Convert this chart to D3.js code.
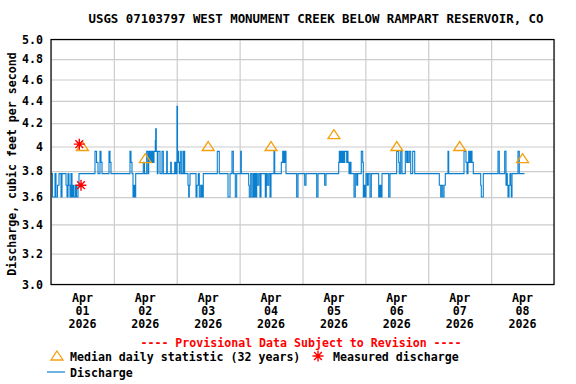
<!DOCTYPE html>
<html>
<head>
<meta charset="utf-8">
<script src="https://cdn.jsdelivr.net/npm/d3@7"></script>
<style>
  html, body { margin: 0; padding: 0; background: #fff; }
  svg { display: block; }
  text { font-family: "DejaVu Sans Mono", "Liberation Mono", monospace; font-weight: bold; }
</style>
</head>
<body>
<svg id="chart" width="576" height="384"></svg>
<script>
// ---------------- DATA ----------------
const titleText = "USGS 07103797 WEST MONUMENT CREEK BELOW RAMPART RESERVOIR, CO";
const yLabelText = "Discharge, cubic feet per second";
const startDate = Date.UTC(2026, 3, 1);   // Apr 01 2026 00:00
const endDate = Date.UTC(2026, 3, 9);     // Apr 09 2026 00:00

const yTickValues = [3.0, 3.2, 3.4, 3.6, 3.8, 4.0, 4.2, 4.4, 4.6, 4.8, 5.0];
const yTickLabels = ["3.0", "3.2", "3.4", "3.6", "3.8", "4", "4.2", "4.4", "4.6", "4.8", "5.0"];

const dayMonths = ["Apr", "Apr", "Apr", "Apr", "Apr", "Apr", "Apr", "Apr"];
const dayNumbers = ["01", "02", "03", "04", "05", "06", "07", "08"];
const dayYears = ["2026", "2026", "2026", "2026", "2026", "2026", "2026", "2026"];

// Median daily statistic (32 years), plotted at noon of each day
const medianValues = [4.0, 3.9, 4.0, 4.0, 4.1, 4.0, 4.0, 3.9];

// Measured discharge (hours since Apr 01 00:00)
const measuredHours = [10.8, 11.45];
const measuredValues = [4.02, 3.69];

// Discharge (15-min record), step change points: hours since Apr 01 00:00
const stepHours = [
  0, 0.57, 1.53, 1.91, 2.48, 3.05, 3.82, 4.20, 5.73, 6.11, 6.49, 6.87, 7.25, 7.63, 8.02, 8.40, 8.78, 9.35, 9.73, 10.31, 10.69,
  16.79, 17.37, 17.94, 18.70, 19.09, 19.47, 22.14, 22.52, 22.90,
  30.15, 30.54, 30.92, 31.30, 31.68, 32.06, 32.33, 35.23, 35.69, 36.53, 37.02, 37.29, 37.52, 37.79, 38.06, 38.29, 38.55, 38.82, 39.05, 39.32,
  39.81, 39.96, 40.19, 40.58, 40.84, 41.61, 42.37, 42.87, 44.16, 44.39, 45.69, 45.92, 47.22, 47.45, 47.71, 47.98,
  48.09, 48.29, 48.48, 48.74, 48.97, 49.24, 49.51, 49.74, 50.38, 50.65, 50.77, 51.03, 52.29, 52.56, 52.79, 53.06,
  55.35, 55.73, 56.22, 56.61, 57.14, 57.37, 57.64, 57.91, 58.13, 63.48, 64.24, 67.56, 68.33, 69.09, 69.59, 70.35, 70.88,
  72.41, 72.64, 75.46, 75.69, 76.23, 76.72, 77.22, 77.49, 77.87, 78.14, 78.52, 78.75, 79.28, 79.78, 80.16,
  81.80, 82.18, 82.56, 83.10, 83.60, 83.98, 85.12, 85.39, 87.91, 88.44, 88.67, 88.94, 89.21, 89.43, 89.70, 93.78, 94.28,
  96.84, 97.34, 101.42, 101.92, 104.47, 104.97, 109.82, 110.05, 110.31, 110.58, 110.81, 111.08, 111.35, 111.57, 111.84, 112.11,
  112.87, 113.10, 113.36, 113.75, 114.13, 114.51, 115.66, 116.15, 116.69, 117.07, 118.44, 118.98, 119.21, 119.59, 119.97,
  120.24, 120.73, 121.11, 121.76, 122.26, 125.08, 125.31, 125.58, 125.85, 126.08, 126.34, 128.90, 129.40,
  131.95, 132.72, 132.95, 133.48, 133.98, 135.24, 135.77, 136.00, 136.27, 136.77, 137.30, 138.06, 138.83,
  148.22, 148.76, 148.99, 149.52, 150.02, 150.51, 151.54, 151.81, 157.65, 158.41, 158.79, 159.17, 159.44, 159.67, 159.93,
  160.20, 160.43, 160.70, 161.19, 164.02, 164.25, 165.01, 170.62, 171.12, 173.18, 173.68, 173.95, 174.18, 174.44, 174.83,
  175.20, 175.47, 175.70, 175.97, 178.26, 178.75, 180.74
];
const stepFlows = [
  3.78, 3.60, 3.78, 3.60, 3.69, 3.78, 3.60, 3.78, 3.69, 3.60, 3.78, 3.69, 3.60, 3.78, 3.60, 3.69, 3.60, 3.69, 3.60, 3.69, 3.78,
  3.96, 3.87, 3.78, 3.96, 3.87, 3.78, 3.96, 3.87, 3.78,
  3.96, 3.87, 3.78, 3.60, 3.69, 3.60, 3.78, 3.87, 3.78, 3.96, 3.78, 3.96, 3.87, 3.96, 3.87, 3.96, 3.87, 3.96, 3.87, 3.96,
  4.05, 4.15, 3.96, 3.78, 3.96, 3.78, 3.96, 3.78, 3.96, 3.78, 3.87, 3.78, 3.87, 3.78, 3.87, 3.78,
  4.35, 3.87, 3.96, 3.87, 3.78, 3.87, 3.96, 3.78, 3.96, 3.78, 3.96, 3.78, 3.69, 3.60, 3.69, 3.78,
  3.60, 3.69, 3.78, 3.60, 3.69, 3.60, 3.69, 3.60, 3.78, 3.96, 3.78, 3.60, 3.78, 3.96, 3.78, 3.60, 3.78,
  3.96, 3.78, 3.69, 3.60, 3.78, 3.60, 3.78, 3.60, 3.78, 3.60, 3.78, 3.69, 3.78, 3.60, 3.78,
  3.60, 3.78, 3.69, 3.78, 3.60, 3.78, 3.96, 3.78, 3.87, 3.96, 3.87, 3.96, 3.87, 3.96, 3.78, 3.60, 3.78,
  3.69, 3.78, 3.60, 3.78, 3.69, 3.78, 3.87, 3.96, 3.87, 3.96, 3.87, 3.96, 3.87, 3.96, 3.87, 3.96,
  3.87, 3.96, 3.87, 3.78, 3.87, 3.78, 3.60, 3.78, 3.69, 3.78, 3.96, 3.87, 3.60, 3.69, 3.60,
  3.78, 3.69, 3.78, 3.60, 3.78, 3.60, 3.69, 3.60, 3.69, 3.60, 3.78, 3.60, 3.78,
  3.96, 3.87, 3.78, 3.96, 3.78, 3.96, 3.87, 3.96, 3.87, 3.96, 3.78, 3.96, 3.78,
  3.69, 3.60, 3.69, 3.60, 3.69, 3.78, 3.96, 3.78, 3.96, 3.87, 3.78, 3.87, 3.96, 3.87, 3.96,
  3.87, 3.96, 3.87, 3.78, 3.69, 3.60, 3.78, 3.96, 3.78, 3.96, 3.69, 3.78, 3.69, 3.60, 3.69,
  3.78, 3.69, 3.60, 3.78, 3.96, 3.78, 3.78
];

const provisionalText = "---- Provisional Data Subject to Revision ----";
const legendMedianText = "Median daily statistic (32 years)";
const legendMeasuredText = "Measured discharge";
const legendDischargeText = "Discharge";

// ---------------- CHART ----------------
const svg = d3.select("#chart");
const plot = { left: 51, right: 554, top: 39.5, bottom: 284.5 };
const hourToDate = h => new Date(startDate + h * 3600e3);

const x = d3.scaleUtc().domain([new Date(startDate), new Date(endDate)]).range([plot.left, plot.right]);
const y = d3.scaleLog().domain([3, 5]).range([plot.bottom, plot.top]);

const blue = "#0a7fd0", orange = "#f5a00f", red = "#ff0000", grid = "#cccccc";

// Title
svg.append("text").attr("x", 316).attr("y", 23).attr("text-anchor", "middle")
  .attr("font-size", "12.4px").attr("fill", "#000").text(titleText);

// Horizontal grid
svg.append("g").attr("transform", `translate(${plot.left},0)`)
  .call(d3.axisLeft(y).tickValues(yTickValues).tickSize(-(plot.right - plot.left)).tickFormat(""))
  .call(g => g.select(".domain").remove())
  .call(g => g.selectAll("line").attr("stroke", grid).attr("stroke-width", 1.2));

// Vertical grid at day boundaries
const dayBounds = d3.utcDay.range(new Date(startDate), new Date(endDate + 1));
svg.append("g").attr("transform", `translate(0,${plot.bottom})`)
  .call(d3.axisBottom(x).tickValues(dayBounds).tickSize(-(plot.bottom - plot.top)).tickFormat(""))
  .call(g => g.select(".domain").remove())
  .call(g => g.selectAll("line").attr("stroke", grid).attr("stroke-width", 1.2));

// Y tick labels
svg.append("g").attr("transform", `translate(${plot.left},0)`)
  .call(d3.axisLeft(y).tickValues(yTickValues).tickSize(0).tickPadding(8)
    .tickFormat((d, i) => yTickLabels[i]))
  .call(g => g.select(".domain").remove())
  .call(g => g.selectAll("text").attr("font-family", "DejaVu Sans Mono").attr("font-weight", "bold")
    .attr("font-size", "11.6px").attr("fill", "#000"));

// Y axis title
svg.append("text").attr("transform", `translate(16,${(plot.top + plot.bottom) / 2 + 2}) rotate(-90)`)
  .attr("text-anchor", "middle").attr("font-size", "11.6px").attr("fill", "#000").text(yLabelText);

// X labels at noon of each day
const noonDates = dayNumbers.map((d, i) => new Date(startDate + (i + 0.5) * 86400e3));
const xl = svg.append("g");
noonDates.forEach((d, i) => {
  const t = xl.append("text").attr("text-anchor", "middle").attr("font-size", "11.6px").attr("fill", "#000");
  t.append("tspan").attr("x", x(d)).attr("y", 302).text(dayMonths[i]);
  t.append("tspan").attr("x", x(d)).attr("y", 315).text(dayNumbers[i]);
  t.append("tspan").attr("x", x(d)).attr("y", 328).text(dayYears[i]);
});

// Discharge step line
const flowData = stepHours.map((h, i) => ({ t: hourToDate(h), v: stepFlows[i] }));
svg.append("path").datum(flowData)
  .attr("fill", "none").attr("stroke", blue).attr("stroke-width", 1.1)
  .attr("d", d3.line().x(d => x(d.t)).y(d => y(d.v)).curve(d3.curveStepAfter));

// Median triangles
function triPath(cx, cy) {
  return `M${cx},${cy - 5}L${cx + 6},${cy + 4}L${cx - 6},${cy + 4}Z`;
}
svg.append("g").selectAll("path").data(medianValues).join("path")
  .attr("d", (v, i) => triPath(x(noonDates[i]), y(v)))
  .attr("fill", "none").attr("stroke", orange).attr("stroke-width", 1.3);

// Measured stars
function starPath(cx, cy, r) {
  let p = "";
  for (let k = 0; k < 4; k++) {
    const a = k * Math.PI / 4;
    const dx = r * Math.cos(a), dy = r * Math.sin(a);
    p += `M${cx - dx},${cy - dy}L${cx + dx},${cy + dy}`;
  }
  return p;
}
svg.append("g").selectAll("path").data(measuredValues).join("path")
  .attr("d", (v, i) => starPath(x(hourToDate(measuredHours[i])), y(v), 5.5))
  .attr("stroke", red).attr("stroke-width", 1.4).attr("fill", "none");

// Plot frame
svg.append("rect").attr("x", plot.left).attr("y", plot.top)
  .attr("width", plot.right - plot.left).attr("height", plot.bottom - plot.top)
  .attr("fill", "none").attr("stroke", "#000").attr("stroke-width", 1.2);

// Provisional text
svg.append("text").attr("x", 301).attr("y", 347).attr("text-anchor", "middle")
  .attr("font-size", "11.6px").attr("fill", red).text(provisionalText);

// Legend
svg.append("path").attr("d", triPath(57, 356)).attr("fill", "none").attr("stroke", orange).attr("stroke-width", 1.3);
svg.append("text").attr("x", 70).attr("y", 361).attr("font-size", "11.6px").attr("fill", "#000").text(legendMedianText);
svg.append("path").attr("d", starPath(318, 356, 5.5)).attr("stroke", red).attr("stroke-width", 1.4).attr("fill", "none");
svg.append("text").attr("x", 333).attr("y", 361).attr("font-size", "11.6px").attr("fill", "#000").text(legendMeasuredText);
svg.append("line").attr("x1", 47).attr("x2", 65).attr("y1", 372).attr("y2", 372).attr("stroke", blue).attr("stroke-width", 1.2);
svg.append("text").attr("x", 70).attr("y", 377).attr("font-size", "11.6px").attr("fill", "#000").text(legendDischargeText);
</script>
</body>
</html>
